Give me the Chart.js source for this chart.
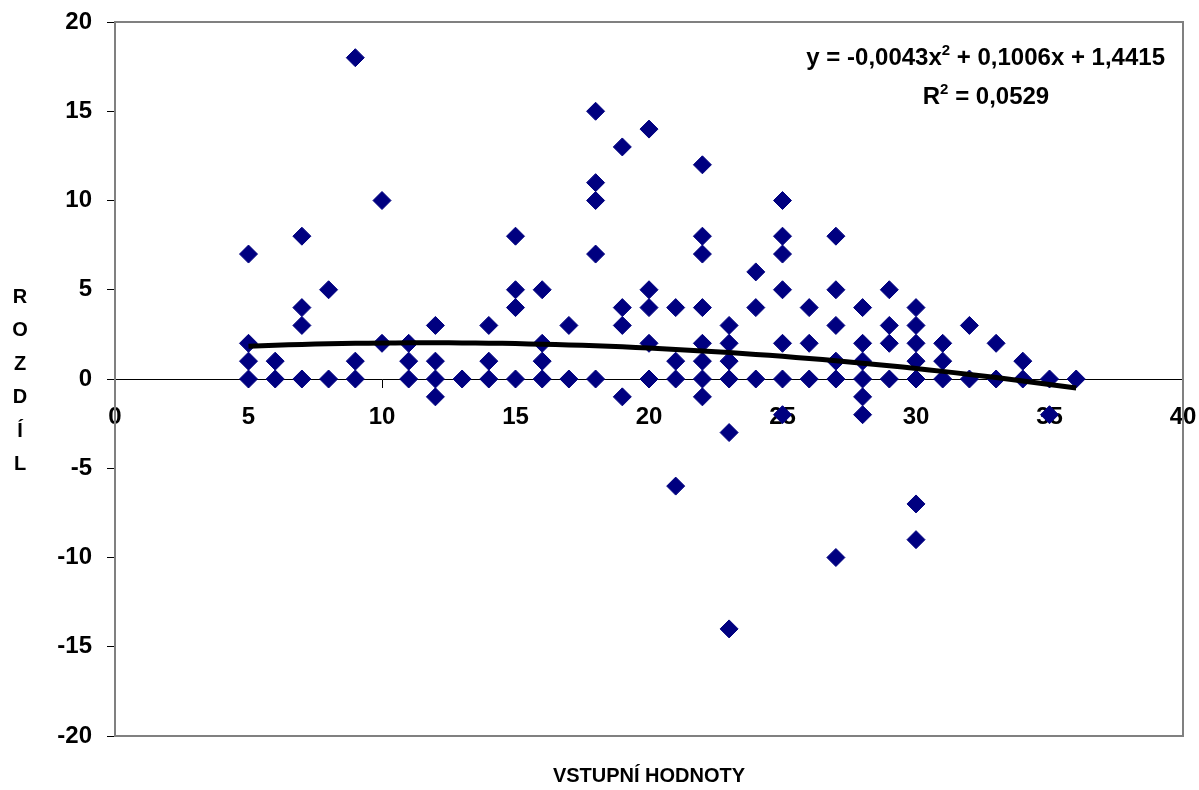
<!DOCTYPE html>
<html>
<head>
<meta charset="utf-8">
<script src="https://cdn.jsdelivr.net/npm/chart.js@4.4.1/dist/chart.umd.min.js"></script>
<style>
  body { margin: 0; background: #fff; }
  canvas { display: block; }
</style>
</head>
<body>
<canvas id="scatterChart" width="1199" height="790"></canvas>
<script>
// vstupni hodnoty (x) and the rozdil values read for each of them (y)
const inputValues = [5, 6, 7, 8, 9, 10, 11, 12, 13, 14, 15, 16, 17, 18, 19, 20,
  21, 22, 23, 24, 25, 26, 27, 28, 29, 30, 31, 32, 33, 34, 35, 36];
const differences = [
  [7, 2, 1, 0], [1, 0], [8, 4, 3, 0], [5, 0], [18, 1, 0], [10, 2], [2, 1, 0], [3, 1, 0, -1],
  [0], [3, 1, 0], [8, 5, 4, 0], [5, 2, 1, 0], [3, 0], [15, 11, 10, 7, 0], [13, 4, 3, -1], [14, 5, 4, 2, 0],
  [4, 1, 0, -6], [12, 8, 7, 4, 2, 1, 0, -1], [3, 2, 1, 0, -3, -14], [6, 4, 0], [10, 8, 7, 5, 2, 0, -2], [4, 2, 0],
  [8, 5, 3, 1, 0, -10], [4, 2, 1, 0, -1, -2], [5, 3, 2, 0], [4, 3, 2, 1, 0, -7, -9], [2, 1, 0], [3, 0],
  [2, 0], [1, 0], [0, -2], [0]
];

// polynomial trendline as printed on the chart: y = a*x^2 + b*x + c
const trendCoef = [-0.0043, 0.1006, 1.4415];
const trendRange = [5, 36];

const xTicks = [0, 40, 5];   // min, max, step
const yTicks = [-20, 20, 5];

const equationText = 'y = -0,0043x² + 0,1006x + 1,4415';
const rSquaredText = 'R² = 0,0529';
const xTitle = 'VSTUPNÍ HODNOTY';
const yTitle = 'ROZDÍL';

const points = [];
inputValues.forEach((x, i) => {
  differences[i].forEach(y => points.push({ x: x, y: y }));
});

const trendPoints = [];
for (let x = trendRange[0]; x <= trendRange[1]; x += 0.5) {
  trendPoints.push({ x: x, y: trendCoef[0] * x * x + trendCoef[1] * x + trendCoef[2] });
}

const FONT = '"Liberation Sans", Arial, sans-serif';

// draws text with a superscript "²" as a small raised 2
function drawSup(ctx, text, x, y, align, size) {
  const parts = text.split('²');
  const supSize = Math.round(size * 0.62);
  const widths = parts.map(p => { ctx.font = 'bold ' + size + 'px ' + FONT; return ctx.measureText(p).width; });
  ctx.font = 'bold ' + supSize + 'px ' + FONT;
  const supW = ctx.measureText('2').width;
  const total = widths.reduce((a, b) => a + b, 0) + supW * (parts.length - 1);
  let cx = align === 'right' ? x - total : align === 'center' ? x - total / 2 : x;
  ctx.textAlign = 'left';
  ctx.textBaseline = 'alphabetic';
  parts.forEach((p, i) => {
    ctx.font = 'bold ' + size + 'px ' + FONT;
    ctx.fillText(p, cx, y);
    cx += widths[i];
    if (i < parts.length - 1) {
      ctx.font = 'bold ' + supSize + 'px ' + FONT;
      ctx.fillText('2', cx, y - size * 0.42);
      cx += supW;
    }
  });
}

// keep the axes from pushing the plot area around
function noPadding(scale) {
  scale.paddingLeft = 0;
  scale.paddingRight = 0;
  scale.paddingTop = 0;
  scale.paddingBottom = 0;
}

const decorations = {
  id: 'decorations',
  beforeDatasetsDraw(chart) {
    const { ctx, chartArea } = chart;
    ctx.save();
    ctx.strokeStyle = '#808080';
    ctx.lineWidth = 2;
    ctx.strokeRect(chartArea.left, chartArea.top, chartArea.right - chartArea.left, chartArea.bottom - chartArea.top);
    ctx.restore();
  },
  afterDraw(chart) {
    const { ctx } = chart;
    ctx.save();
    ctx.fillStyle = '#000';
    drawSup(ctx, equationText, 1165, 65, 'right', 24);
    drawSup(ctx, rSquaredText, 986, 104, 'center', 24);

    ctx.font = 'bold 20px ' + FONT;
    ctx.textAlign = 'center';
    ctx.textBaseline = 'middle';
    ctx.fillText(xTitle, 649, 776);
    yTitle.split('').forEach((ch, i) => {
      ctx.fillText(ch, 20, 297 + i * 33.5);
    });
    ctx.restore();
  }
};

const ctx = document.getElementById('scatterChart').getContext('2d');
const chart = new Chart(ctx, {
  type: 'scatter',
  data: {
    datasets: [{
      type: 'line',
      label: 'trend',
      data: trendPoints,
      borderColor: '#000',
      borderWidth: 5,
      pointRadius: 0,
      fill: false,
      tension: 0
    }, {
      label: 'rozdil',
      data: points,
      pointStyle: 'rectRot',
      pointRadius: 9,
      pointBackgroundColor: '#000080',
      pointBorderColor: '#000080',
      pointBorderWidth: 1
    }]
  },
  options: {
    responsive: false,
    devicePixelRatio: 1,
    animation: false,
    layout: { padding: { left: 0, top: 22, right: 16, bottom: 54 } },
    plugins: {
      legend: { display: false },
      tooltip: { enabled: false }
    },
    scales: {
      x: {
        type: 'linear',
        position: { y: 0 },
        min: xTicks[0],
        max: xTicks[1],
        afterFit: noPadding,
        ticks: {
          stepSize: xTicks[2],
          color: '#000',
          padding: 16,
          maxRotation: 0,
          font: { family: FONT, size: 24, weight: 'bold' }
        },
        grid: { drawOnChartArea: false, tickLength: 8, color: '#000' },
        border: { color: '#000', width: 1 }
      },
      y: {
        min: yTicks[0],
        max: yTicks[1],
        afterFit(scale) { scale.width = 115; noPadding(scale); },
        ticks: {
          stepSize: yTicks[2],
          color: '#000',
          padding: 15,
          font: { family: FONT, size: 24, weight: 'bold' }
        },
        grid: { drawOnChartArea: false, tickLength: 8, color: '#000' },
        border: { color: '#808080', width: 2 }
      }
    }
  },
  plugins: [decorations]
});
</script>
</body>
</html>
